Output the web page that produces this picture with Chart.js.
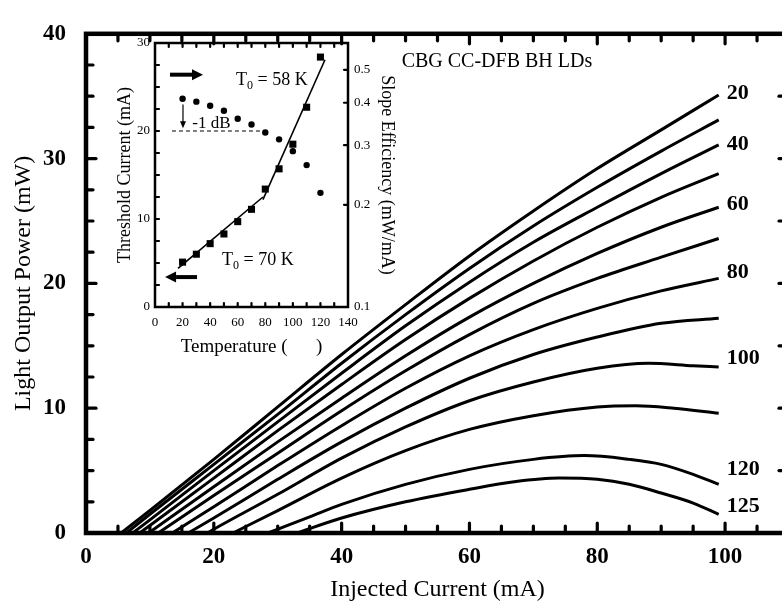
<!DOCTYPE html>
<html><head><meta charset="utf-8">
<script src="https://cdn.jsdelivr.net/npm/chart.js@4/dist/chart.umd.min.js"></script>
<style>
html,body{margin:0;padding:0;background:#fff;overflow:hidden;width:782px;height:610px;}
#wrap{position:relative;width:782px;height:610px;overflow:hidden;}
#main{position:absolute;left:0;top:0;}
#inset{position:absolute;left:110px;top:25px;}
</style></head><body>
<div id="wrap"><canvas id="main" width="800" height="610"></canvas><canvas id="inset" width="292" height="345"></canvas></div>
<script>
// ---------- main chart data: injected current (mA) vs light output power (mW) ----------
const temps = [20,30,40,50,60,70,80,90,100,110,120,125];
const I_20  = [5.5,10,20,30,40,50,60,70,80,90,99];
const P_20  = [0,1.8,5.9,10.1,14.3,18.3,22.2,25.8,29.2,32.3,35.1];
const I_30  = [6.3,10,20,30,40,50,60,70,80,90,99];
const P_30  = [0,1.5,5.5,9.5,13.6,17.5,21.2,24.6,27.7,30.6,33.1];
const I_40  = [7.3,10,20,30,40,50,60,70,80,90,99];
const P_40  = [0,1.05,5.0,8.9,12.8,16.6,20.1,23.3,26.1,28.8,31.1];
const I_50  = [8.4,20,30,40,50,60,70,80,90,99];
const P_50  = [0,4.4,8.2,11.9,15.5,18.8,21.8,24.5,26.9,28.8];
const I_60  = [9.8,20,30,40,50,60,70,80,90,99];
const P_60  = [0,3.7,7.3,10.8,14.2,17.3,20.0,22.4,24.5,26.1];
const I_70  = [11.3,20,30,40,50,60,70,80,90,99];
const P_70  = [0,3.0,6.4,9.8,13.0,15.9,18.4,20.4,22.1,23.6];
const I_80  = [13.5,20,30,40,50,60,70,80,90,99];
const P_80  = [0,2.1,5.4,8.6,11.6,14.2,16.3,18.0,19.4,20.4];
const I_90  = [16,20,30,40,50,60,70,80,90,99];
const P_90  = [0,1.2,4.3,7.3,10.0,12.4,14.3,15.7,16.8,17.2];
const I_100 = [19,20,30,40,50,60,70,80,88,95,99];
const P_100 = [0,0.3,3.1,6.0,8.5,10.6,12.1,13.2,13.6,13.4,13.3];
const I_110 = [23,30,40,50,60,70,80,86,92,99];
const P_110 = [0,1.8,4.4,6.6,8.3,9.4,10.1,10.2,10.0,9.6];
const I_120 = [28.5,35,40,50,60,70,78,85,90,95,99];
const P_120 = [0,1.3,2.3,3.9,5.1,5.9,6.2,5.9,5.5,4.7,3.9];
const I_125 = [33,40,50,60,67,74,80,85,90,95,99];
const P_125 = [0,1.2,2.5,3.5,4.1,4.4,4.3,3.9,3.2,2.4,1.5];
const curveI = [I_20,I_30,I_40,I_50,I_60,I_70,I_80,I_90,I_100,I_110,I_120,I_125];
const curveP = [P_20,P_30,P_40,P_50,P_60,P_70,P_80,P_90,P_100,P_110,P_120,P_125];
const labeledTemps = [20,40,60,80,100,120,125];
const xTicks = [0,20,40,60,80,100];
const yTicks = [0,10,20,30,40];
const mainTitle = 'CBG CC-DFB BH LDs';

// ---------- inset data ----------
const insetT = [20,30,40,50,60,70,80,90,100,110,120];
const thresholdCurrent = [5.1,6.0,7.2,8.3,9.7,11.1,13.4,15.7,18.5,22.7,28.4];
const slopeEfficiency = [0.411,0.403,0.392,0.379,0.359,0.345,0.327,0.312,0.288,0.262,0.217];
const fitLowT = [16.7,78.3];
const fitLowI = [4.4,12.5];
const fitHighT = [78.3,123.3];
const fitHighI = [12.2,28.1];
const dashT = [12.3,78];
const dashI = [20,20];
const insetXTicks = [0,20,40,60,80,100,120,140];
const insetLTicks = [0,10,20,30];
const insetRTicks = [0.1,0.2,0.3,0.4,0.5];

const SERIF = "'Liberation Serif','Times New Roman',Times,serif";
const pts = (xs, ys) => xs.map((v,i)=>({x:v, y:ys[i]}));

function seg(ctx,x0,y0,x1,y1){ctx.beginPath();ctx.moveTo(x0,y0);ctx.lineTo(x1,y1);ctx.stroke();}

const labelOffsets = {20:-2,40:-1,60:-3,80:-6,100:-9,120:-15,125:-8};

const mainDecor = {
  id:'mainDecor',
  afterDraw(chart){
    const {ctx, chartArea:a, scales:{x,y}} = chart;
    ctx.save();
    ctx.strokeStyle='#000'; ctx.fillStyle='#000';
    ctx.lineWidth=4.5;
    ctx.strokeRect(a.left,a.top,a.right-a.left,a.bottom-a.top);
    ctx.lineWidth=3.2; ctx.lineCap='round';
    for(let v=5; v<110; v+=5){
      const px=x.getPixelForValue(v);
      const len = v%20===0 ? 10 : 7;
      seg(ctx,px,a.bottom,px,a.bottom-len);
      seg(ctx,px,a.top,px,a.top+len);
    }
    for(let v=2.5; v<40; v+=2.5){
      const py=y.getPixelForValue(v);
      const len = v%10===0 ? 10 : 7;
      seg(ctx,a.left,py,a.left+len,py);
      if(v%5===0) seg(ctx,a.right,py,a.right-10,py);
    }
    // curve labels
    ctx.font = 'bold 22px '+SERIF;
    ctx.textAlign='left'; ctx.textBaseline='middle';
    labeledTemps.forEach(t=>{
      const k = temps.indexOf(t);
      const I = curveI[k], P = curveP[k];
      const px = x.getPixelForValue(I[I.length-1]) + 8;
      const py = y.getPixelForValue(P[P.length-1]) + labelOffsets[t];
      ctx.fillText(String(t), px, py);
    });
    // title text
    ctx.font = '20px '+SERIF; ctx.textAlign='center';
    ctx.fillText(mainTitle, x.getPixelForValue(64.3), y.getPixelForValue(37.8));
    ctx.restore();
  }
};

new Chart(document.getElementById('main'), {
  type:'line',
  data:{ datasets: temps.map((t,k)=>({
    label: t+' °C',
    data: pts(curveI[k], curveP[k]),
    borderColor:'#000', borderWidth:3, pointRadius:0,
    cubicInterpolationMode:'monotone', fill:false
  }))},
  options:{
    responsive:false, animation:false, devicePixelRatio:1,
    layout:{padding:{left:0,top:20,right:11,bottom:0}},
    plugins:{legend:{display:false}, tooltip:{enabled:false}},
    scales:{
      x:{type:'linear', min:0, max:110,
        afterBuildTicks:s=>{s.ticks = xTicks.map(v=>({value:v}));},
        afterFit:s=>{s.height=77;},
        grid:{display:false, drawTicks:false}, border:{display:false},
        ticks:{color:'#000', font:{family:SERIF, size:23, weight:'bold'}, padding:10, maxRotation:0},
        title:{display:true, text:'Injected Current (mA)', color:'#000', font:{family:SERIF, size:24}, padding:{top:0,bottom:6}}
      },
      y:{type:'linear', min:0, max:40,
        afterBuildTicks:s=>{s.ticks = yTicks.map(v=>({value:v}));},
        afterFit:s=>{s.width=86;},
        grid:{display:false, drawTicks:false}, border:{display:false},
        ticks:{color:'#000', font:{family:SERIF, size:23, weight:'bold'}, padding:20},
        title:{display:true, text:'Light Output Power (mW)', color:'#000', font:{family:SERIF, size:24}, padding:{top:9,bottom:0}}
      }
    }
  },
  plugins:[mainDecor]
});

// ---------- inset ----------
function thickArrow(ctx,x0,y,x1){
  const dir = Math.sign(x1-x0), head=11, hh=5.5;
  ctx.lineWidth=4; ctx.lineCap='butt';
  seg(ctx,x0,y,x1-dir*head,y);
  ctx.beginPath(); ctx.moveTo(x1,y); ctx.lineTo(x1-dir*head,y-hh); ctx.lineTo(x1-dir*head,y+hh); ctx.closePath(); ctx.fill();
}
function subText(ctx, x, y, main, sub, rest, size){
  ctx.font = size+'px '+SERIF; ctx.textAlign='left'; ctx.textBaseline='middle';
  ctx.fillText(main,x,y); let w = ctx.measureText(main).width;
  ctx.font = Math.round(size*0.68)+'px '+SERIF; ctx.fillText(sub,x+w,y+size*0.3);
  w += ctx.measureText(sub).width;
  ctx.font = size+'px '+SERIF; ctx.fillText(rest,x+w,y);
}

const insetDecor = {
  id:'insetDecor',
  afterDraw(chart){
    const {ctx, chartArea:a, scales:{x,yL,yR}} = chart;
    ctx.save();
    ctx.strokeStyle='#000'; ctx.fillStyle='#000';
    ctx.lineWidth=2.5;
    ctx.strokeRect(a.left,a.top,a.right-a.left,a.bottom-a.top);
    ctx.lineWidth=2.2; ctx.lineCap='round';
    for(let v=10; v<140; v+=10){
      const px=x.getPixelForValue(v);
      seg(ctx,px,a.bottom,px,a.bottom-4);
      seg(ctx,px,a.top,px,a.top+4);
    }
    for(let v=2.5; v<30; v+=2.5){
      const py=yL.getPixelForValue(v);
      seg(ctx,a.left,py,a.left+4,py);
    }
    insetRTicks.forEach(v=>{ const py=yR.getPixelForValue(v); seg(ctx,a.right,py,a.right-4,py); });
    // arrows
    thickArrow(ctx, x.getPixelForValue(10.9), yL.getPixelForValue(26.4), x.getPixelForValue(34.8));
    thickArrow(ctx, x.getPixelForValue(30.5), yL.getPixelForValue(3.4), x.getPixelForValue(7.3));
    // -1 dB arrow
    const ax = x.getPixelForValue(20.3), ay0 = yL.getPixelForValue(23.0), ay1 = yL.getPixelForValue(20.3);
    ctx.lineWidth=1.2; ctx.lineCap='butt';
    seg(ctx,ax,ay0,ax,ay1-5);
    ctx.beginPath(); ctx.moveTo(ax,ay1); ctx.lineTo(ax-3,ay1-7); ctx.lineTo(ax+3,ay1-7); ctx.closePath(); ctx.fill();
    ctx.font='17px '+SERIF; ctx.textAlign='left'; ctx.textBaseline='middle';
    ctx.fillText('-1 dB', x.getPixelForValue(27), yL.getPixelForValue(20.9));
    subText(ctx, x.getPixelForValue(58.8), yL.getPixelForValue(25.8), 'T', '0', ' = 58 K', 18);
    subText(ctx, x.getPixelForValue(48.6), yL.getPixelForValue(5.3), 'T', '0', ' = 70 K', 18);
    ctx.restore();
  }
};

new Chart(document.getElementById('inset'), {
  type:'scatter',
  data:{datasets:[
    {label:'fit low', type:'line', data:pts(fitLowT,fitLowI), yAxisID:'yL', borderColor:'#000', borderWidth:1.6, pointRadius:0},
    {label:'fit high', type:'line', data:pts(fitHighT,fitHighI), yAxisID:'yL', borderColor:'#000', borderWidth:1.6, pointRadius:0},
    {label:'-1 dB', type:'line', data:pts(dashT,dashI), yAxisID:'yL', borderColor:'#000', borderWidth:1.2, borderDash:[4,3], pointRadius:0},
    {label:'Threshold current', data:pts(insetT,thresholdCurrent), yAxisID:'yL', pointStyle:'rect', pointRadius:5, backgroundColor:'#000', borderColor:'#000', borderWidth:0},
    {label:'Slope efficiency', data:pts(insetT,slopeEfficiency), yAxisID:'yR', pointStyle:'circle', pointRadius:3.2, backgroundColor:'#000', borderColor:'#000', borderWidth:0}
  ]},
  options:{
    responsive:false, animation:false, devicePixelRatio:1,
    layout:{padding:{left:0,top:18,right:0,bottom:0}},
    plugins:{legend:{display:false}, tooltip:{enabled:false}},
    scales:{
      x:{type:'linear', min:0, max:140,
        afterBuildTicks:s=>{s.ticks = insetXTicks.map(v=>({value:v}));},
        afterFit:s=>{s.height=63;},
        grid:{display:false, drawTicks:false}, border:{display:false},
        ticks:{color:'#000', font:{family:SERIF, size:13}, padding:8, maxRotation:0, autoSkip:false},
        title:{display:true, text:'Temperature (      )', color:'#000', font:{family:SERIF, size:19}, padding:{top:0,bottom:12}}
      },
      yL:{type:'linear', position:'left', min:0, max:30,
        afterBuildTicks:s=>{s.ticks = insetLTicks.map(v=>({value:v}));},
        afterFit:s=>{s.width=45;},
        grid:{display:false, drawTicks:false}, border:{display:false},
        ticks:{color:'#000', font:{family:SERIF, size:13}, padding:5},
        title:{display:true, text:'Threshold Current (mA)', color:'#000', font:{family:SERIF, size:18}, padding:{top:4,bottom:0}}
      },
      yR:{type:'logarithmic', position:'right', min:0.1, max:0.6,
        afterBuildTicks:s=>{s.ticks = insetRTicks.map(v=>({value:v}));},
        afterFit:s=>{s.width=54;},
        grid:{display:false, drawTicks:false}, border:{display:false},
        ticks:{color:'#000', font:{family:SERIF, size:13}, padding:6, callback:v=>String(v)},
        title:{display:true, text:'Slope Efficiency (mW/mA)', color:'#000', font:{family:SERIF, size:18}, padding:{top:4,bottom:0}}
      }
    }
  },
  plugins:[insetDecor]
});
</script>
</body></html>
